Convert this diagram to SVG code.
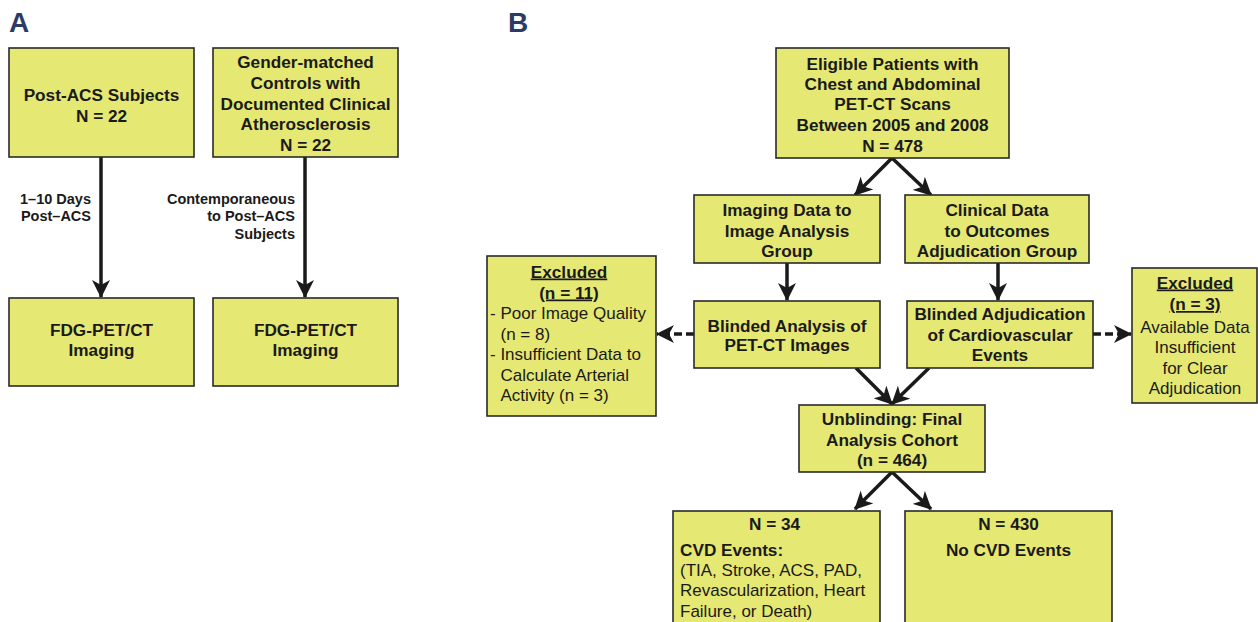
<svg xmlns="http://www.w3.org/2000/svg" width="1258" height="622" viewBox="0 0 1258 622">
<defs>
<style>
.box{fill:#e5e872;stroke:#2a2a2a;stroke-width:1.6}
.t{font-family:"Liberation Sans",Arial,sans-serif;font-size:17.2px;font-weight:bold;fill:#1a1a1a;text-anchor:middle}
.tl{font-family:"Liberation Sans",Arial,sans-serif;font-size:17.2px;font-weight:bold;fill:#1a1a1a;text-anchor:start}
.tn{font-family:"Liberation Sans",Arial,sans-serif;font-size:17px;fill:#1a1a1a;text-anchor:middle}
.r{font-family:"Liberation Sans",Arial,sans-serif;font-size:17px;fill:#1a1a1a}
.u{text-decoration:underline}
.s{font-family:"Liberation Sans",Arial,sans-serif;font-size:14.5px;font-weight:bold;fill:#1a1a1a;text-anchor:end}
.lbl{font-family:"Liberation Sans",Arial,sans-serif;font-size:28px;font-weight:bold;fill:#2c3b66}
.c{stroke:#1a1a1a;stroke-width:3.5;fill:none;marker-end:url(#ah)}
.d{stroke-dasharray:8,4}
</style>
<marker id="ah" markerUnits="userSpaceOnUse" markerWidth="18" markerHeight="18" viewBox="0 0 18 18" refX="17" refY="9" orient="auto">
<path d="M0,0 L18,9 L0,18 L5,9 z" fill="#1a1a1a"/>
</marker>
</defs>
<text class="lbl" x="9" y="32">A</text>
<text class="lbl" x="508" y="32">B</text>

<g id="connectors">
<line class="c" x1="101" y1="157" x2="101" y2="297"/>
<line class="c" x1="305" y1="157" x2="305" y2="297"/>
<line class="c" x1="892" y1="158" x2="855" y2="195"/>
<line class="c" x1="892" y1="158" x2="931" y2="195"/>
<line class="c" x1="787" y1="263" x2="787" y2="300"/>
<line class="c" x1="998" y1="263" x2="998" y2="300"/>
<line class="c d" x1="694" y1="334" x2="657" y2="334"/>
<line class="c d" x1="1093" y1="334" x2="1131" y2="334"/>
<line class="c" x1="856" y1="368" x2="892" y2="404"/>
<line class="c" x1="929" y1="368" x2="892" y2="404"/>
<line class="c" x1="892" y1="472" x2="855" y2="509"/>
<line class="c" x1="892" y1="472" x2="931" y2="509"/>
</g>

<g id="labelA1">
<text class="s" x="91" y="204">1–10 Days</text>
<text class="s" x="91" y="221">Post–ACS</text>
</g>
<g id="labelA2">
<text class="s" x="295" y="204">Contemporaneous</text>
<text class="s" x="295" y="221">to Post–ACS</text>
<text class="s" x="295" y="239">Subjects</text>
</g>

<g id="postacs">
<rect class="box" x="9" y="48" width="185" height="109"/>
<text class="t" x="101.5" y="101">Post-ACS Subjects</text>
<text class="t" x="101.5" y="122">N = 22</text>
</g>
<g id="controls">
<rect class="box" x="213" y="48" width="185" height="109"/>
<text class="t" x="305.5" y="68">Gender-matched</text>
<text class="t" x="305.5" y="89">Controls with</text>
<text class="t" x="305.5" y="109.5">Documented Clinical</text>
<text class="t" x="305.5" y="130">Atherosclerosis</text>
<text class="t" x="305.5" y="151">N = 22</text>
</g>
<g id="fdg1">
<rect class="box" x="9" y="298" width="185" height="88"/>
<text class="t" x="101.5" y="336">FDG-PET/CT</text>
<text class="t" x="101.5" y="356">Imaging</text>
</g>
<g id="fdg2">
<rect class="box" x="213" y="298" width="185" height="88"/>
<text class="t" x="305.5" y="336">FDG-PET/CT</text>
<text class="t" x="305.5" y="356">Imaging</text>
</g>

<g id="eligible">
<rect class="box" x="776" y="48" width="233" height="110"/>
<text class="t" x="892.5" y="69.5">Eligible Patients with</text>
<text class="t" x="892.5" y="89.5">Chest and Abdominal</text>
<text class="t" x="892.5" y="110">PET-CT Scans</text>
<text class="t" x="892.5" y="130.5">Between 2005 and 2008</text>
<text class="t" x="892.5" y="151.5">N = 478</text>
</g>
<g id="imaging">
<rect class="box" x="694" y="195" width="186" height="68"/>
<text class="t" x="787" y="216">Imaging Data to</text>
<text class="t" x="787" y="236.5">Image Analysis</text>
<text class="t" x="787" y="257">Group</text>
</g>
<g id="clinical">
<rect class="box" x="905" y="195" width="184" height="68"/>
<text class="t" x="997" y="216">Clinical Data</text>
<text class="t" x="997" y="236.5">to Outcomes</text>
<text class="t" x="997" y="257">Adjudication Group</text>
</g>
<g id="blindedAnalysis">
<rect class="box" x="694" y="301" width="186" height="67"/>
<text class="t" x="787" y="331.5">Blinded Analysis of</text>
<text class="t" x="787" y="351">PET-CT Images</text>
</g>
<g id="blindedAdj">
<rect class="box" x="907" y="301" width="186" height="67"/>
<text class="t" x="1000" y="320">Blinded Adjudication</text>
<text class="t" x="1000" y="341">of Cardiovascular</text>
<text class="t" x="1000" y="361">Events</text>
</g>
<g id="excludedLeft">
<rect class="box" x="487" y="256" width="169" height="160"/>
<text class="t u" x="569" y="277.5">Excluded</text>
<text class="t u" x="569" y="298.5">(n = 11)</text>
<text class="r" x="490" y="319">- Poor Image Quality</text>
<text class="r" x="500.5" y="340">(n = 8)</text>
<text class="r" x="490" y="360">- Insufficient Data to</text>
<text class="r" x="500.5" y="381">Calculate Arterial</text>
<text class="r" x="500.5" y="401">Activity (n = 3)</text>
</g>
<g id="excludedRight">
<rect class="box" x="1132" y="268" width="125" height="135"/>
<text class="t u" x="1195" y="288.5">Excluded</text>
<text class="t u" x="1195" y="310">(n = 3)</text>
<text class="tn" x="1195" y="332.5">Available Data</text>
<text class="tn" x="1195" y="353">Insufficient</text>
<text class="tn" x="1195" y="374">for Clear</text>
<text class="tn" x="1195" y="394">Adjudication</text>
</g>
<g id="unblinding">
<rect class="box" x="799" y="405" width="186" height="67"/>
<text class="t" x="892" y="424.5">Unblinding: Final</text>
<text class="t" x="892" y="445.5">Analysis Cohort</text>
<text class="t" x="892" y="466">(n = 464)</text>
</g>
<g id="cvd">
<rect class="box" x="673" y="511" width="207" height="130"/>
<text class="t" x="774.5" y="529.5">N = 34</text>
<text class="tl" x="680" y="555.5">CVD Events:</text>
<text class="r" x="680" y="576">(TIA, Stroke, ACS, PAD,</text>
<text class="r" x="680" y="596">Revascularization, Heart</text>
<text class="r" x="680" y="617">Failure, or Death)</text>
</g>
<g id="nocvd">
<rect class="box" x="905" y="511" width="207" height="130"/>
<text class="t" x="1008.5" y="529.5">N = 430</text>
<text class="t" x="1008.5" y="555.5">No CVD Events</text>
</g>
</svg>
